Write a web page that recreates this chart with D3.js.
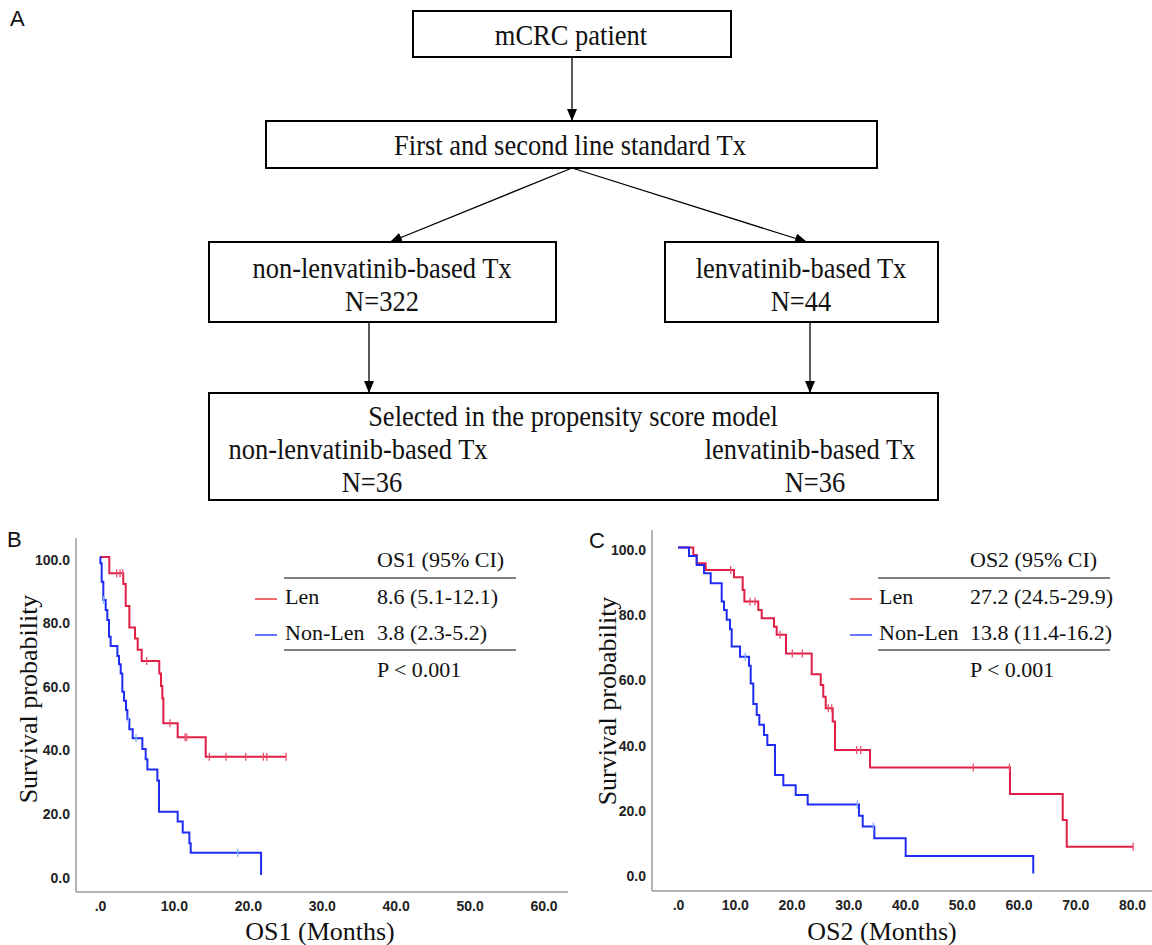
<!DOCTYPE html>
<html>
<head>
<meta charset="utf-8">
<script src="https://cdn.jsdelivr.net/npm/d3@7"></script>
<style>
  body { margin: 0; background: #fff; }
  svg text { font-family: "Liberation Serif", "Times New Roman", serif; fill: #111; }
  .tick text { font-family: "Liberation Sans", Arial, sans-serif; font-weight: bold; font-size: 14px; fill: #222; }
  .panel-label { font-family: "Liberation Sans", Arial, sans-serif; font-size: 22px; }
</style>
</head>
<body>
<div id="chart"></div>
<script>
// ---- flowchart texts ----
const flowTop = ["mCRC patient"];
const flowLine = ["First and second line standard Tx"];
const flowArms = ["non-lenvatinib-based Tx", "lenvatinib-based Tx"];
const flowArmN = ["N=322", "N=44"];
const flowPsmTitle = "Selected in the propensity score model";
const flowPsmN = ["N=36", "N=36"];

// ---- KM axes ----
const yTicks = [0, 20, 40, 60, 80, 100];
const os1Ticks = [0, 10, 20, 30, 40, 50, 60];
const os2Ticks = [0, 10, 20, 30, 40, 50, 60, 70, 80];

// ---- OS1 (panel B) ----
const os1LenTime = [1.26, 3.15, 3.48, 3.97, 4.74, 5.10, 5.64, 8.02, 8.25, 8.43, 8.57, 10.51, 14.30];
const os1LenSurv = [94.9, 91.5, 84.6, 77.8, 74.4, 70.8, 67.3, 63.4, 59.4, 55.6, 47.7, 43.3, 37.2];
const os1LenCensor = [2.26, 2.71, 3.07, 6.32, 9.47, 11.5, 11.73, 14.79, 17.05, 19.72, 22.1, 22.56, 25.17];
const os1LenEnd = 25.17;

const os1NonTime = [0.05, 0.23, 0.45, 0.77, 0.99, 1.22, 1.44, 2.35, 2.57, 2.8, 3.02, 3.25, 3.52, 3.7, 3.97, 4.42, 5.73, 6.18, 6.41, 7.76, 7.98, 10.51, 11.19, 12.09, 12.27, 21.79];
const os1NonSurv = [98.0, 92.2, 86.5, 83.3, 80.2, 74.9, 72.0, 68.9, 66.3, 63.4, 57.6, 54.8, 51.9, 49.0, 45.8, 43.0, 39.6, 36.4, 33.2, 29.7, 19.9, 16.8, 13.4, 10.0, 7.0, 0];
const os1NonCensor = [0.5, 3.83, 4.87, 18.63];
const os1NonEnd = 21.79;

// ---- OS2 (panel C) ----
const os2LenTime = [2.70, 3.30, 4.88, 9.87, 11.4, 11.7, 14.15, 14.75, 16.92, 17.39, 19.03, 23.56, 25.15, 25.6, 26.03, 27.26, 27.67, 33.83, 58.5, 67.79, 68.5];
const os2LenSurv = [97.7, 95.2, 93.1, 90.9, 87.0, 83.4, 80.8, 78.3, 75.7, 73.2, 67.5, 61.1, 57.8, 54.2, 50.7, 46.6, 37.9, 32.5, 24.4, 16.4, 8.2];
const os2LenCensor = [9.29, 12.69, 13.57, 17.97, 20.14, 21.9, 26.48, 27.08, 31.49, 32.19, 52.03, 58.4, 80.2];
const os2LenEnd = 80.2;

const os2NonTime = [1.94, 3.29, 4.58, 5.76, 7.70, 8.11, 8.58, 9.16, 9.46, 10.93, 12.51, 12.81, 13.27, 13.87, 14.33, 15.15, 15.74, 17.09, 18.56, 20.74, 22.85, 31.89, 32.55, 34.59, 40.12, 62.6];
const os2NonSurv = [97.4, 94.6, 92.1, 89.0, 83.4, 80.8, 77.8, 74.9, 69.6, 66.5, 63.7, 58.3, 52.0, 48.6, 45.6, 42.5, 39.4, 30.2, 27.1, 24.1, 21.2, 17.7, 14.4, 10.8, 5.4, 0];
const os2NonCensor = [11.86, 31.59, 34.41];
const os2NonEnd = 62.6;

// ---- legend tables ----
const groupNames = ["Len", "Non-Len"];
const os1Stats = ["8.6 (5.1-12.1)", "3.8 (2.3-5.2)"];
const os2Stats = ["27.2 (24.5-29.9)", "13.8 (11.4-16.2)"];
const pText = "P < 0.001";

const RED = "#e01f45", BLUE = "#1f2cf2";
const RED_CENSOR = "#e8506e", BLUE_CENSOR = "#80b0ff";

const svg = d3.select("#chart").append("svg")
  .attr("width", 1152).attr("height", 945);

svg.append("defs").append("marker")
  .attr("id", "arr").attr("markerUnits", "userSpaceOnUse")
  .attr("markerWidth", 12).attr("markerHeight", 10)
  .attr("refX", 12).attr("refY", 5).attr("orient", "auto")
  .append("path").attr("d", "M0,0 L12,5 L0,10 z").attr("fill", "#000");

// ================= A: flowchart =================
svg.append("text").attr("class", "panel-label").attr("x", 10).attr("y", 26).text("A");

const fl = svg.append("g");
function box(x0, y0, x1, y1) {
  fl.append("rect").attr("x", x0).attr("y", y0).attr("width", x1 - x0).attr("height", y1 - y0)
    .attr("fill", "none").attr("stroke", "#000").attr("stroke-width", 2);
}
function label(txt, cx, cy) { // slightly tall serif, like the source figure
  fl.append("text").attr("transform", `translate(${cx},${cy}) scale(1,1.1)`)
    .attr("dy", "0.35em")
    .attr("text-anchor", "middle").attr("font-size", 26.5).text(txt);
}
function arrow(x0, y0, x1, y1) {
  fl.append("line").attr("x1", x0).attr("y1", y0).attr("x2", x1).attr("y2", y1)
    .attr("stroke", "#000").attr("stroke-width", 1.3).attr("marker-end", "url(#arr)");
}
box(413, 11, 731, 57);   label(flowTop[0], 571, 35);
box(266, 121, 877, 168); label(flowLine[0], 570, 145);
box(209, 242, 556, 322); label(flowArms[0], 382, 268); label(flowArmN[0], 382, 301);
box(665, 242, 938, 322); label(flowArms[1], 801, 268); label(flowArmN[1], 801, 301);
box(209, 393, 938, 500);
label(flowPsmTitle, 573, 416);
label(flowArms[0], 358, 449); label(flowArms[1], 810, 449);
label(flowPsmN[0], 372, 482); label(flowPsmN[1], 815, 482);
arrow(572, 57, 572, 121);
arrow(572, 168, 390, 242);
arrow(572, 168, 807, 242);
arrow(369, 322, 369, 393);
arrow(810, 322, 810, 393);

// ================= KM panels =================
function survAt(times, survs, t) {
  let s = 100;
  times.forEach((tt, i) => { if (tt <= t) s = survs[i]; });
  return s;
}

function kmPanel(cfg) {
  const x = d3.scaleLinear().domain([0, cfg.xMax]).range(cfg.xRange);
  const y = d3.scaleLinear().domain([0, 100]).range(cfg.yRange);
  const g = svg.append("g");

  // frame lines
  g.append("line").attr("x1", cfg.axisX).attr("x2", cfg.axisX)
    .attr("y1", cfg.axisTop).attr("y2", cfg.axisY)
    .attr("stroke", "#9a9a9a").attr("stroke-width", 1.5);
  g.append("line").attr("x1", cfg.axisX).attr("x2", cfg.axisRight)
    .attr("y1", cfg.axisY).attr("y2", cfg.axisY)
    .attr("stroke", "#9a9a9a").attr("stroke-width", 1.5);

  g.append("g").attr("transform", `translate(${cfg.axisX},0)`)
    .call(d3.axisLeft(y).tickValues(yTicks).tickSize(0).tickPadding(6)
      .tickFormat(d => d.toFixed(1)))
    .call(a => a.select(".domain").remove())
    .selectAll("text").attr("dy", "0.5em");

  g.append("g").attr("transform", `translate(0,${cfg.axisY})`)
    .call(d3.axisBottom(x).tickValues(cfg.xTicks).tickSize(0).tickPadding(9)
      .tickFormat(d => d === 0 ? ".0" : d.toFixed(1)))
    .call(a => a.select(".domain").remove());

  // titles
  g.append("text")
    .attr("transform", `translate(${cfg.yTitleX},${cfg.yTitleY}) rotate(-90)`)
    .attr("text-anchor", "middle").attr("dy", "0.35em").attr("font-size", 26)
    .text("Survival probability");
  g.append("text").attr("x", cfg.xTitleX).attr("y", 940)
    .attr("text-anchor", "middle").attr("font-size", 26).text(cfg.xTitle);

  const line = d3.line().x(d => x(d[0])).y(d => y(d[1])).curve(d3.curveStepAfter);

  cfg.series.forEach(sr => {
    const pts = [[0, 100]].concat(sr.times.map((t, i) => [t, sr.survs[i]]));
    const last = pts[pts.length - 1];
    if (sr.end > last[0]) pts.push([sr.end, last[1]]);
    g.append("path").datum(pts).attr("d", line)
      .attr("fill", "none").attr("stroke", sr.color).attr("stroke-width", 2);
    g.selectAll(null).data(sr.censors).enter().append("line")
      .attr("x1", d => x(d)).attr("x2", d => x(d))
      .attr("y1", d => y(survAt(sr.times, sr.survs, d)) - 4)
      .attr("y2", d => y(survAt(sr.times, sr.survs, d)) + 4)
      .attr("stroke", sr.censorColor).attr("stroke-width", 1.3);
  });

  // legend table
  const L = cfg.legend;
  g.append("text").attr("x", L.statX).attr("y", 567).attr("font-size", 22).text(L.head);
  [578, 650].forEach(yy => g.append("line")
    .attr("x1", L.ruleX0).attr("x2", L.ruleX1).attr("y1", yy).attr("y2", yy)
    .attr("stroke", "#555").attr("stroke-width", 1.5));
  groupNames.forEach((nm, i) => {
    const yy = 604 + i * 36;
    g.append("line").attr("x1", L.keyX0).attr("x2", L.keyX1)
      .attr("y1", yy - 5).attr("y2", yy - 5)
      .attr("stroke", i === 0 ? "#f03a3a" : "#3a46ff").attr("stroke-width", 1.5);
    g.append("text").attr("x", L.ruleX0 + 1).attr("y", yy).attr("font-size", 22).text(nm);
    g.append("text").attr("x", L.statX).attr("y", yy).attr("font-size", 22).text(L.stats[i]);
  });
  g.append("text").attr("x", L.statX).attr("y", 677).attr("font-size", 22).text(pText);
}

svg.append("text").attr("class", "panel-label").attr("x", 7).attr("y", 547).text("B");
svg.append("text").attr("class", "panel-label").attr("x", 589).attr("y", 548).text("C");

kmPanel({
  xMax: 60, xRange: [100, 543.5], yRange: [875, 557], xTicks: os1Ticks,
  axisX: 76, axisTop: 538, axisY: 892, axisRight: 568,
  yTitleX: 28, yTitleY: 699, xTitleX: 320, xTitle: "OS1 (Months)",
  series: [
    { times: os1LenTime, survs: os1LenSurv, censors: os1LenCensor, end: os1LenEnd, color: RED, censorColor: RED_CENSOR },
    { times: os1NonTime, survs: os1NonSurv, censors: os1NonCensor, end: os1NonEnd, color: BLUE, censorColor: BLUE_CENSOR }
  ],
  legend: { head: "OS1 (95% CI)", stats: os1Stats, statX: 377, ruleX0: 284, ruleX1: 516, keyX0: 255, keyX1: 277 }
});

kmPanel({
  xMax: 80, xRange: [678, 1132], yRange: [873.5, 547.5], xTicks: os2Ticks,
  axisX: 652, axisTop: 530, axisY: 891, axisRight: 1152,
  yTitleX: 607, yTitleY: 701, xTitleX: 882, xTitle: "OS2 (Months)",
  series: [
    { times: os2LenTime, survs: os2LenSurv, censors: os2LenCensor, end: os2LenEnd, color: RED, censorColor: RED_CENSOR },
    { times: os2NonTime, survs: os2NonSurv, censors: os2NonCensor, end: os2NonEnd, color: BLUE, censorColor: BLUE_CENSOR }
  ],
  legend: { head: "OS2 (95% CI)", stats: os2Stats, statX: 970, ruleX0: 878, ruleX1: 1110, keyX0: 850, keyX1: 872 }
});
</script>
</body>
</html>
